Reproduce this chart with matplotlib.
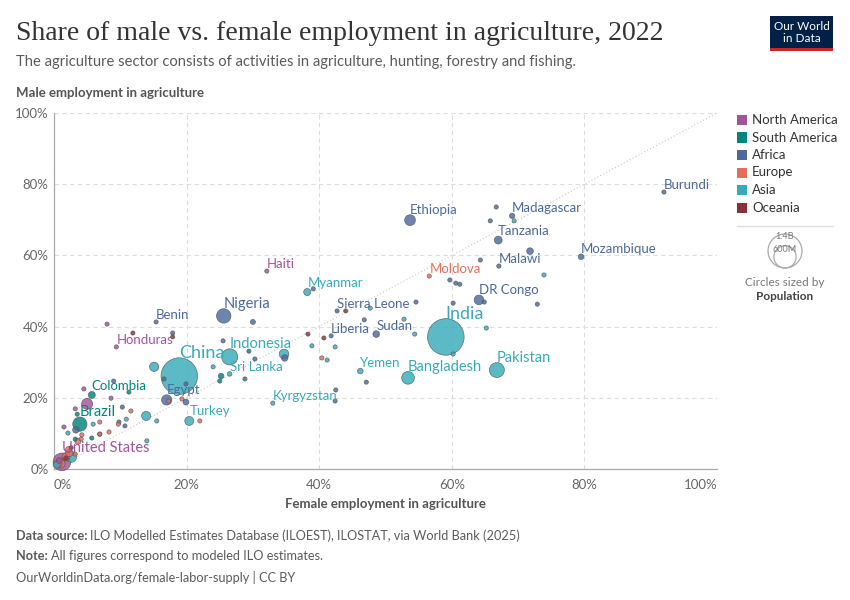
import numpy as np
import matplotlib.pyplot as plt
from matplotlib.patches import Rectangle, Circle
from matplotlib.lines import Line2D

plt.rcParams['font.family'] = ['Lato', 'DejaVu Sans']

# ---- data ----
country = [
    'Burundi', 'Ethiopia', 'Madagascar', '', '', 'Tanzania', '', 'Mozambique', 'Malawi', '',
    '', '', '', 'DR Congo', '', '', '', '', 'Sierra Leone', '',
    'Sudan', 'Liberia', '', '', '', '', 'Nigeria', '', '', '',
    '', '', 'Egypt', '', '', '', 'Benin', '', '', '',
    '', '', '', '',
    'Colombia', 'Brazil', '', '', '', '', '', '', '',
    'Haiti', '', 'Honduras', '', '', '', '', '', 'United States', '',
    '', '', '', '', '', '', '',
    'Moldova', '', '', '', '', '', '', '', '', '', '', '', '', '', '', '', '', '', '',
    'India', 'China', 'Indonesia', 'Pakistan', 'Bangladesh', 'Sri Lanka', 'Myanmar', 'Yemen',
    'Kyrgyzstan', 'Turkey', '', '', '', '', '', '', '', '', '', '',
    '', '', '', '', '', '', '', '', '', '', '',
]
region = (['Africa'] * 44 + ['South America'] * 9 + ['North America'] * 10
          + ['Oceania'] * 7 + ['Europe'] * 19 + ['Asia'] * 31)
female = [
    92.0, 53.7, 69.1, 66.7, 65.8, 67.0, 71.8, 79.5, 67.1, 64.3,
    59.7, 60.6, 61.2, 64.1, 64.9, 72.9, 54.6, 60.2, 42.7, 46.8,
    48.6, 41.8, 39.1, 47.1, 42.5, 42.4, 25.6, 30.0, 25.5, 30.3,
    34.8, 28.8, 17.0, 19.9, 19.9, 16.6, 15.4, 17.9, 9.0, 10.3,
    9.8, 10.7, 3.3, 6.9,
    5.7, 3.9, 3.5, 5.7, 3.2, 25.2, 25.0, 29.4, 11.3,
    32.1, 8.0, 9.4, 4.5, 8.6, 5.0, 3.2, 1.5, 1.2, 0.8,
    11.9, 17.9, 44.0, 38.3, 40.7, 1.8, 2.6,
    56.6, 40.4, 17.3, 19.3, 22.0, 11.6, 6.9, 9.7, 8.3, 6.9, 4.2, 4.1, 3.2, 2.2, 1.0, 1.8, 0.6,
    2.3, 3.6,
    59.1, 18.9, 26.5, 66.8, 53.4, 26.5, 38.2, 46.2, 33.0, 20.4,
    73.9, 69.4, 65.2, 52.8, 54.4, 60.2, 47.7, 38.9, 42.4, 41.2,
    34.7, 24.0, 15.1, 15.5, 13.9, 10.9, 5.9, 14.0, 2.1, 2.6, 0.4,
]
male = [
    77.8, 69.9, 71.1, 73.6, 69.7, 64.3, 61.2, 59.6, 57.0, 58.7,
    53.1, 52.2, 51.9, 47.5, 46.9, 46.3, 46.9, 46.6, 44.4, 41.9,
    37.9, 37.4, 50.6, 24.4, 22.2, 19.1, 43.0, 41.3, 36.0, 30.9,
    31.2, 25.3, 19.4, 18.8, 23.9, 25.3, 41.3, 38.2, 24.7, 17.4,
    13.2, 12.1, 11.0, 9.8,
    20.8, 12.6, 15.4, 8.7, 8.4, 26.1, 24.7, 33.1, 21.6,
    55.6, 40.7, 34.3, 22.5, 19.9, 18.3, 16.9, 11.8, 2.0, 2.4,
    38.2, 37.1, 44.4, 37.9, 36.8, 3.0, 6.0,
    54.2, 31.2, 19.1, 19.7, 13.5, 16.3, 13.2, 12.6, 10.4, 9.8, 9.6, 8.4, 4.2, 5.5, 1.5, 3.5, 1.4,
    4.5, 7.8,
    37.1, 26.1, 31.5, 27.8, 25.6, 26.7, 49.7, 27.5, 18.5, 13.5,
    54.5, 69.7, 39.6, 42.1, 37.9, 32.3, 45.2, 34.6, 34.3, 30.6,
    32.3, 28.7, 28.7, 13.5, 14.9, 14.0, 12.6, 7.9, 10.1, 3.4, 1.2,
]
population = [  # millions
    13, 123, 30, 18, 12, 65, 47, 33, 20, 8,
    10, 17, 12, 99, 14, 8, 8, 8, 8.6, 14,
    47, 5.3, 10, 17, 5, 5, 219, 27, 8, 8,
    45, 8, 111, 37, 5, 5, 13, 8, 5, 5,
    6, 6, 45, 5,
    52, 215, 7, 3, 5, 34, 12, 5, 2,
    11.6, 6, 10.4, 7, 7, 128, 5, 3, 333, 38,
    3, 3, 3, 3, 3, 26, 5,
    3, 3, 3, 3, 3, 19, 5, 4, 4, 4, 6, 10, 10, 38, 84, 68, 67,
    59, 40,
    1417, 1412, 275, 236, 171, 22, 54, 33, 7, 85,
    8, 5, 5, 5, 5, 5, 5, 5, 5, 5,
    98, 5, 90, 8, 88, 6, 5, 10, 5, 125, 51,
]

regions = ['North America', 'South America', 'Africa', 'Europe', 'Asia', 'Oceania']
colors = {'North America': '#a2559c', 'South America': '#00847e', 'Africa': '#4c6a9c',
          'Europe': '#e56e5a', 'Asia': '#38aaba', 'Oceania': '#883039'}

W, H = 850, 600
fig = plt.figure(figsize=(W / 100, H / 100), dpi=100)


def fx(px):
    return px / W


def fy(py):
    return 1 - py / H


ax = fig.add_axes([fx(54), fy(469), (717 - 54) / W, (469 - 113) / H])
ax.set_xlim(0, 100)
ax.set_ylim(0, 100)

pop = np.array(population, dtype=float)
radius = np.maximum(2.1, 18.3 * np.sqrt(pop / 1417))   # pixels
sizes = (2 * radius * 0.72) ** 2
order = np.argsort(-pop)
cols = [colors[region[i]] for i in order]
ax.scatter(np.array(female)[order], np.array(male)[order], s=sizes[order], c=cols,
           alpha=0.82, edgecolors='#555555', linewidths=0.5, zorder=3, clip_on=False)

ax.plot([0, 100], [0, 100], ls=(0, (1, 2)), color='#c8c8c8', lw=0.8, zorder=2)

for i, name in enumerate(country):
    if not name:
        continue
    if pop[i] > 1000:
        fs = 13
    elif pop[i] > 150:
        fs = 10.5
    else:
        fs = 9.5
    ax.annotate(name, (female[i], male[i]), xytext=(0, (radius[i] + 5) * 0.72),
                textcoords='offset points', ha='left', va='center', fontsize=fs,
                color=colors[region[i]], zorder=5)

ticks = [0, 20, 40, 60, 80, 100]
ax.set_xticks(ticks)
ax.set_yticks(ticks)
ax.set_xticklabels([f'{t}%' for t in ticks])
ax.set_yticklabels([f'{t}%' for t in ticks])
xl = ax.get_xticklabels()
xl[0].set_ha('left')
xl[-1].set_ha('right')
ax.tick_params(axis='both', length=0, labelsize=9.5, labelcolor='#666666')
ax.tick_params(axis='x', pad=7)
ax.tick_params(axis='y', pad=4)
ax.grid(True, color='#dddddd', ls=(0, (4, 3)), lw=0.8, zorder=0)
for side in ['top', 'right']:
    ax.spines[side].set_visible(False)
for side in ['left', 'bottom']:
    ax.spines[side].set_color('#aaaaaa')
    ax.spines[side].set_linewidth(0.9)
ax.set_axisbelow(True)

ax.set_xlabel('Female employment in agriculture', fontsize=9.5, color='#555555',
              weight='bold', labelpad=5)

# ---- header ----
fig.text(fx(16), fy(33), 'Share of male vs. female employment in agriculture, 2022',
         fontsize=20, family=['Liberation Serif', 'DejaVu Serif'], color='#333333', va='center')
fig.text(fx(16), fy(62), 'The agriculture sector consists of activities in agriculture, hunting, forestry and fishing.',
         fontsize=10.65, color='#5b5b5b', va='center')
fig.text(fx(16), fy(93), 'Male employment in agriculture', fontsize=9.5, color='#555555',
         weight='bold', va='center')

# logo
fig.add_artist(Rectangle((fx(770), fy(51)), 63 / W, 35 / H, transform=fig.transFigure,
                         facecolor='#002147', edgecolor='none'))
fig.add_artist(Rectangle((fx(770), fy(51)), 63 / W, 3 / H, transform=fig.transFigure,
                         facecolor='#ce261e', edgecolor='none'))
fig.text(fx(801.5), fy(26), 'Our World', fontsize=8.5, color='white', ha='center', va='center')
fig.text(fx(801.5), fy(39), 'in Data', fontsize=8.5, color='white', ha='center', va='center')

# ---- colour legend ----
for k, reg in enumerate(regions):
    yc = 120 + k * 17.5
    fig.add_artist(Rectangle((fx(737), fy(yc + 5)), 10 / W, 10 / H, transform=fig.transFigure,
                             facecolor=colors[reg], edgecolor='none'))
    fig.text(fx(752), fy(yc), reg, fontsize=9.5, color='#333333', va='center')
fig.add_artist(Line2D([fx(737), fx(833)], [fy(226), fy(226)], transform=fig.transFigure,
                      color='#dddddd', lw=1))

# ---- size legend ----
lax = fig.add_axes([fx(755), fy(272), 60 / W, 45 / H])
lax.set_xlim(0, 60)
lax.set_ylim(0, 45)
lax.set_aspect('equal')
lax.axis('off')
r_big = 17.0
r_small = r_big * np.sqrt(600 / 1400)
for r in [r_big, r_small]:
    lax.add_patch(Circle((30, 4 + r), r, facecolor='none', edgecolor='#aaaaaa', lw=0.9,
                         clip_on=False))
lax.text(30, 4 + 2 * r_big - 2, '1.4B', fontsize=6.5, color='#777777', ha='center', va='center')
lax.text(30, 4 + 2 * r_small - 4, '600M', fontsize=6.5, color='#777777', ha='center', va='center')
fig.text(fx(785), fy(282), 'Circles sized by', fontsize=8.5, color='#777777', ha='center', va='center')
fig.text(fx(785), fy(296), 'Population', fontsize=8.5, color='#444444', ha='center', va='center',
         weight='bold')

# ---- footer ----
renderer = fig.canvas.get_renderer()


def two_part(y, bold, rest):
    t = fig.text(fx(16), fy(y), bold, fontsize=9.2, color='#5b5b5b', weight='bold', va='center')
    bb = t.get_window_extent(renderer=renderer)
    fig.text(bb.x1 / W + 3 / W, fy(y), rest, fontsize=9.2, color='#5b5b5b', va='center')


two_part(536, 'Data source:', 'ILO Modelled Estimates Database (ILOEST), ILOSTAT, via World Bank (2025)')
two_part(556, 'Note:', 'All figures correspond to modeled ILO estimates.')
fig.text(fx(16), fy(577), 'OurWorldinData.org/female-labor-supply | CC BY', fontsize=9.2,
         color='#5b5b5b', va='center')

fig.savefig('out.png', dpi=100)
